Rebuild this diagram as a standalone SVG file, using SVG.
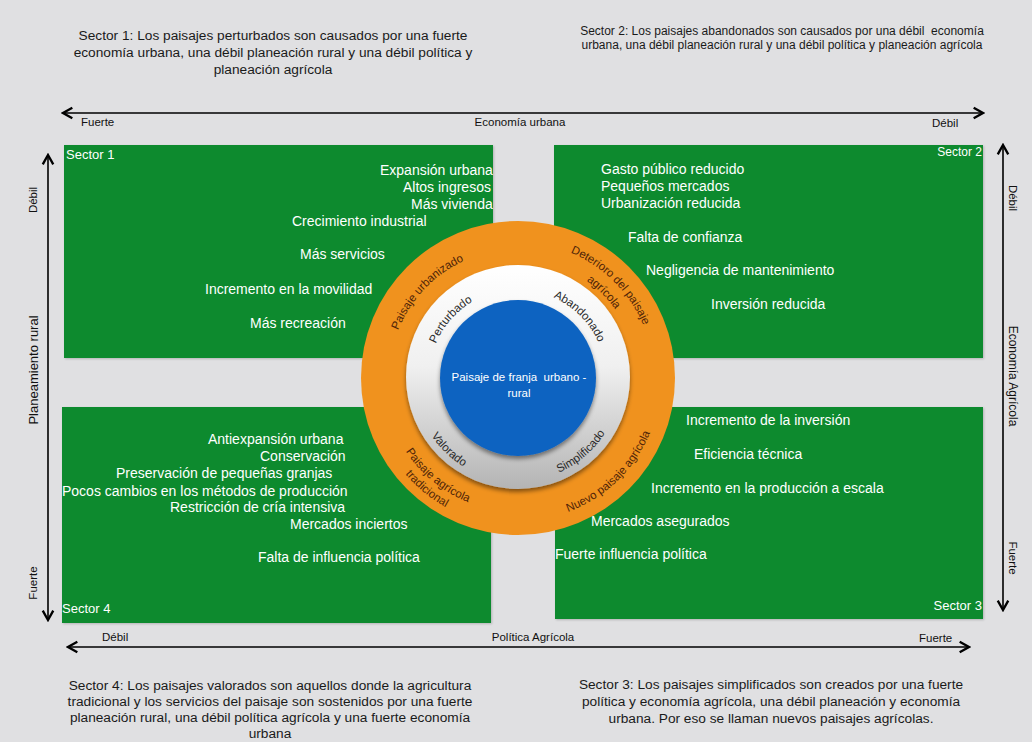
<svg xmlns="http://www.w3.org/2000/svg" width="1032" height="742" viewBox="0 0 1032 742">
  <style>
    .bg { fill: #e0e0e2; }
    .sector { fill: #0a8a2e; filter: url(#soft); }
    .cap { font-family: "Liberation Sans", Arial, sans-serif; font-size: 13.7px; fill: #1a1a1a; text-anchor: middle; }
    .cap2 { font-family: "Liberation Sans", Arial, sans-serif; font-size: 12px; fill: #1a1a1a; text-anchor: middle; }
    .item { font-family: "Liberation Sans", Arial, sans-serif; font-size: 14px; fill: #ffffff; }
    .tag { font-family: "Liberation Sans", Arial, sans-serif; font-size: 13px; fill: #ffffff; }
    .axis { stroke: #000; stroke-width: 1.6; fill: none; marker-start: url(#chev); marker-end: url(#chev); }
    .axlbl { font-family: "Liberation Sans", Arial, sans-serif; font-size: 11.5px; fill: #111; }
    .ring-g { font-family: "Liberation Sans", Arial, sans-serif; font-size: 11.5px; fill: #2a2a2a; }
    .ring-o { font-family: "Liberation Sans", Arial, sans-serif; font-size: 11.5px; fill: #4f2408; }
    .core { font-family: "Liberation Sans", Arial, sans-serif; font-size: 11.5px; fill: #ffffff; text-anchor: middle; }
  </style>
  <defs>
    <marker id="chev" markerUnits="userSpaceOnUse" markerWidth="14" markerHeight="14" viewBox="-10 -6 12 12" refX="0" refY="0" orient="auto-start-reverse">
      <path d="M-8,-4.5 L0,0 L-8,4.5" fill="none" stroke="#000" stroke-width="2"/>
    </marker>
    <linearGradient id="greyRing" x1="0" y1="0" x2="0" y2="1">
      <stop offset="0" stop-color="#ffffff"/>
      <stop offset="0.45" stop-color="#f0f0f0"/>
      <stop offset="1" stop-color="#b4b4b4"/>
    </linearGradient>
    <filter id="shadow" x="-20%" y="-20%" width="140%" height="140%">
      <feDropShadow dx="0" dy="3" stdDeviation="2" flood-color="#000" flood-opacity="0.45"/>
    </filter>
    <filter id="soft" x="-5%" y="-5%" width="110%" height="110%">
      <feDropShadow dx="1" dy="1" stdDeviation="1" flood-color="#000" flood-opacity="0.2"/>
    </filter>
    <!-- arcs used as text baselines -->
    <path id="pPert" d="M433.85,406.98 A89,89 0 0 1 534.98,290.64"/>
    <path id="pAban" d="M495.23,293.0 A88,88 0 0 1 603.0,400.77"/>
    <path id="pValo" d="M417.09,352.84 A104,104 0 0 0 546.66,477.97"/>
    <path id="pSimp" d="M483.62,475.09 A103,103 0 0 0 619.28,359.23"/>
    <path id="pUrb" d="M394.31,414.64 A129,129 0 0 1 548.09,252.55"/>
    <path id="pDet1" d="M482.80,246.63 A136,136 0 0 1 649.37,413.20"/>
    <path id="pDet2" d="M487.20,263.08 A119,119 0 0 1 632.95,408.80"/>
    <path id="pTrad1" d="M385.80,356.12 A134,134 0 0 0 565.14,503.44"/>
    <path id="pTrad2" d="M371.99,353.84 A148,148 0 0 0 570.06,516.55"/>
    <path id="pNuevo" d="M478.59,515.46 A143,143 0 0 0 656.75,343.41"/>
  </defs>

  <rect class="bg" x="0" y="0" width="1032" height="742"/>

  <!-- captions -->
  <g id="caption-sector1">
    <text class="cap" x="273" y="40">Sector 1: Los paisajes perturbados son causados por una fuerte</text>
    <text class="cap" x="273" y="57">economía urbana, una débil planeación rural y una débil política y</text>
    <text class="cap" x="273" y="74">planeación agrícola</text>
  </g>
  <g id="caption-sector2">
    <text class="cap2" x="782" y="35" xml:space="preserve">Sector 2: Los paisajes abandonados son causados por una débil  economía</text>
    <text class="cap2" x="782" y="49">urbana, una débil planeación rural y una débil política y planeación agrícola</text>
  </g>
  <g id="caption-sector4">
    <text class="cap" x="270" y="690">Sector 4: Los paisajes valorados son aquellos donde la agricultura</text>
    <text class="cap" x="270" y="706">tradicional y los servicios del paisaje son sostenidos por una fuerte</text>
    <text class="cap" x="270" y="722">planeación rural, una débil política agrícola y una fuerte economía</text>
    <text class="cap" x="270" y="738">urbana</text>
  </g>
  <g id="caption-sector3">
    <text class="cap" x="771" y="689">Sector 3: Los paisajes simplificados son creados por una fuerte</text>
    <text class="cap" x="771" y="706">política y economía agrícola, una débil planeación y economía</text>
    <text class="cap" x="771" y="723">urbana. Por eso se llaman nuevos paisajes agrícolas.</text>
  </g>

  <!-- axes -->
  <g id="connectors">
    <line class="axis" x1="63" y1="113" x2="983" y2="113"/>
    <line class="axis" x1="68" y1="647" x2="969" y2="647"/>
    <line class="axis" x1="48" y1="155" x2="48" y2="620"/>
    <line class="axis" x1="1003" y1="145" x2="1003" y2="610"/>
  </g>
  <g id="axis-labels">
    <text class="axlbl" x="81" y="126">Fuerte</text>
    <text class="axlbl" x="520" y="126" text-anchor="middle">Economía urbana</text>
    <text class="axlbl" x="932" y="127">Débil</text>
    <text class="axlbl" x="102" y="641">Débil</text>
    <text class="axlbl" x="533" y="641" text-anchor="middle">Política Agrícola</text>
    <text class="axlbl" x="919" y="642">Fuerte</text>
    <text class="axlbl" transform="translate(37,200) rotate(-90)" text-anchor="middle">Débil</text>
    <text class="axlbl" transform="translate(37.5,370) rotate(-90)" text-anchor="middle" style="font-size:13px">Planeamiento rural</text>
    <text class="axlbl" transform="translate(37,583) rotate(-90)" text-anchor="middle">Fuerte</text>
    <text class="axlbl" transform="translate(1009,198) rotate(90)" text-anchor="middle">Débil</text>
    <text class="axlbl" transform="translate(1009,376) rotate(90)" text-anchor="middle" style="font-size:12px">Economía Agrícola</text>
    <text class="axlbl" transform="translate(1009,558) rotate(90)" text-anchor="middle">Fuerte</text>
  </g>

  <!-- sector panels -->
  <g id="sector1">
    <rect class="sector" x="64" y="145" width="429" height="213"/>
    <text class="tag" x="66" y="159">Sector 1</text>
    <text class="item" x="380" y="175">Expansión urbana</text>
    <text class="item" x="403" y="192">Altos ingresos</text>
    <text class="item" x="411" y="209">Más vivienda</text>
    <text class="item" x="292" y="226">Crecimiento industrial</text>
    <text class="item" x="300" y="259">Más servicios</text>
    <text class="item" x="205" y="294">Incremento en la movilidad</text>
    <text class="item" x="250" y="328">Más recreación</text>
  </g>
  <g id="sector2">
    <rect class="sector" x="554" y="145" width="429" height="213"/>
    <text class="tag" x="982" y="156" text-anchor="end" style="font-size:12px">Sector 2</text>
    <text class="item" x="601" y="174">Gasto público reducido</text>
    <text class="item" x="601" y="191">Pequeños mercados</text>
    <text class="item" x="601" y="208">Urbanización reducida</text>
    <text class="item" x="628" y="242">Falta de confianza</text>
    <text class="item" x="646" y="275">Negligencia de mantenimiento</text>
    <text class="item" x="711" y="309">Inversión reducida</text>
  </g>
  <g id="sector4">
    <rect class="sector" x="62" y="407" width="429" height="216"/>
    <text class="tag" x="62" y="613">Sector 4</text>
    <text class="item" x="208" y="444">Antiexpansión urbana</text>
    <text class="item" x="260" y="461">Conservación</text>
    <text class="item" x="116" y="478">Preservación de pequeñas granjas</text>
    <text class="item" x="62" y="496">Pocos cambios en los métodos de producción</text>
    <text class="item" x="170" y="512">Restricción de cría intensiva</text>
    <text class="item" x="290" y="529">Mercados inciertos</text>
    <text class="item" x="258" y="562">Falta de influencia política</text>
  </g>
  <g id="sector3">
    <rect class="sector" x="555" y="407" width="428" height="212"/>
    <text class="tag" x="982" y="610" text-anchor="end">Sector 3</text>
    <text class="item" x="686" y="425">Incremento de la inversión</text>
    <text class="item" x="694" y="459">Eficiencia técnica</text>
    <text class="item" x="651" y="493">Incremento en la producción a escala</text>
    <text class="item" x="591" y="526">Mercados asegurados</text>
    <text class="item" x="555" y="559">Fuerte influencia política</text>
  </g>

  <!-- concentric landscape rings -->
  <g id="ring-outer">
    <circle cx="518" cy="378" r="157" fill="#f0921e"/>
    <text class="ring-o"><textPath href="#pUrb" startOffset="50%" text-anchor="middle">Paisaje urbanizado</textPath></text>
    <text class="ring-o"><textPath href="#pDet1" startOffset="50%" text-anchor="middle">Deterioro del paisaje</textPath></text>
    <text class="ring-o"><textPath href="#pDet2" startOffset="50%" text-anchor="middle">agrícola</textPath></text>
    <text class="ring-o"><textPath href="#pTrad1" startOffset="50%" text-anchor="middle">Paisaje agrícola</textPath></text>
    <text class="ring-o"><textPath href="#pTrad2" startOffset="50%" text-anchor="middle">tradicional</textPath></text>
    <text class="ring-o"><textPath href="#pNuevo" startOffset="50%" text-anchor="middle">Nuevo paisaje agrícola</textPath></text>
  </g>
  <g id="ring-inner">
    <circle cx="518" cy="377" r="112" fill="url(#greyRing)" filter="url(#shadow)"/>
    <text class="ring-g"><textPath href="#pPert" startOffset="50%" text-anchor="middle">Perturbado</textPath></text>
    <text class="ring-g"><textPath href="#pAban" startOffset="50%" text-anchor="middle">Abandonado</textPath></text>
    <text class="ring-g"><textPath href="#pValo" startOffset="50%" text-anchor="middle">Valorado</textPath></text>
    <text class="ring-g"><textPath href="#pSimp" startOffset="50%" text-anchor="middle">Simplificado</textPath></text>
  </g>
  <g id="core">
    <circle cx="518" cy="378" r="78" fill="#0b63c1" filter="url(#shadow)"/>
    <text class="core" x="519" y="381" xml:space="preserve">Paisaje de franja  urbano -</text>
    <text class="core" x="519" y="397">rural</text>
  </g>
</svg>
